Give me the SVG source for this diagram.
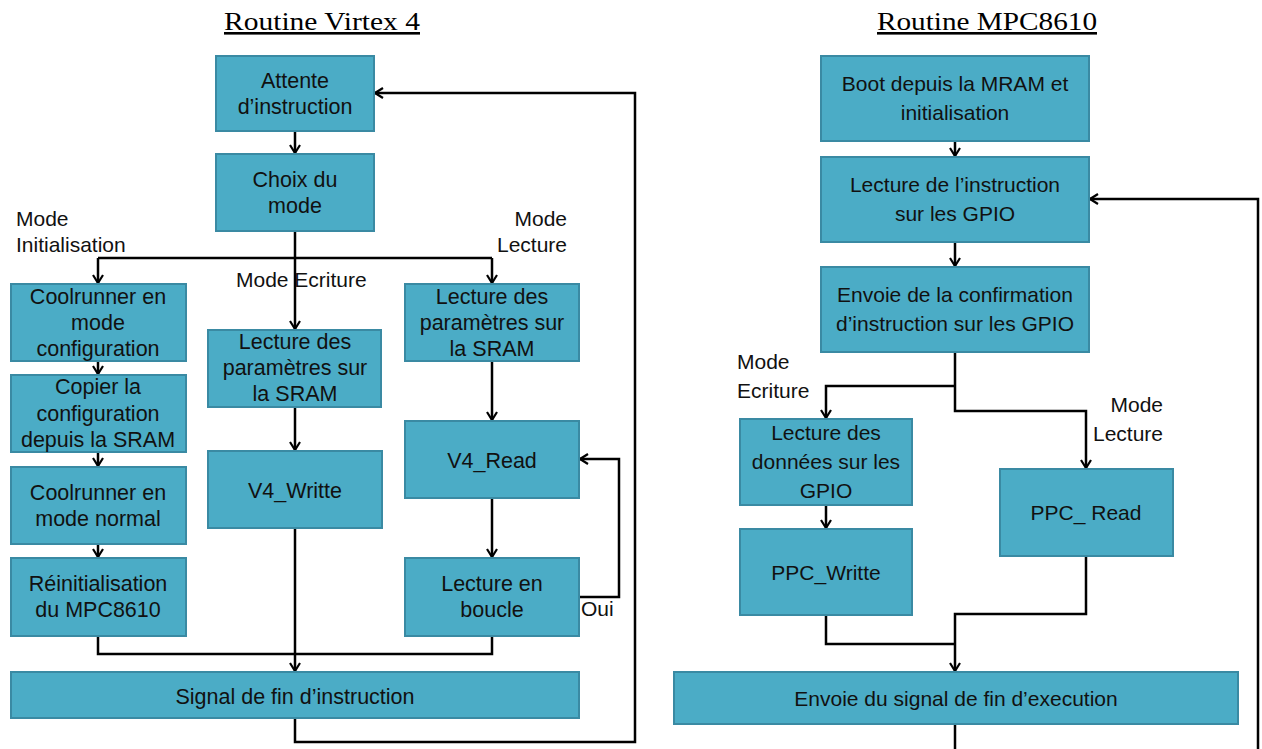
<svg xmlns="http://www.w3.org/2000/svg" width="1262" height="749" viewBox="0 0 1262 749">
<style>
.box{fill:#4BACC6;stroke:#3A8AA3;stroke-width:2}
.t{font-family:"Liberation Sans",Arial,sans-serif;font-size:21.5px;fill:#111;text-anchor:middle}
.tr{font-family:"Liberation Sans",Arial,sans-serif;font-size:21px;fill:#111;text-anchor:middle}
.lbl{font-family:"Liberation Sans",Arial,sans-serif;font-size:21px;fill:#111}
.title{font-family:"Liberation Serif","Times New Roman",serif;font-size:26px;fill:#000;text-anchor:middle;text-decoration:underline}
.c{fill:none;stroke:#000;stroke-width:2.5}
.a{marker-end:url(#arr)}
</style>
<defs>
<marker id="arr" markerUnits="userSpaceOnUse" viewBox="0 0 10 12" refX="9" refY="6" markerWidth="10" markerHeight="12" orient="auto">
<path d="M1,1 L9,6 L1,11" fill="none" stroke="#000" stroke-width="2.2"/>
</marker>
</defs>
<rect width="1262" height="749" fill="#fff"/>

<text class="title" x="322" y="30" textLength="196" lengthAdjust="spacingAndGlyphs">Routine Virtex 4</text>
<text class="title" x="987" y="30" textLength="220" lengthAdjust="spacingAndGlyphs">Routine MPC8610</text>

<g id="connectors">
<!-- left -->
<path class="c a" d="M295,131 V153"/>
<path class="c a" d="M295,231 V329"/>
<path class="c" d="M98,258 H492"/>
<path class="c a" d="M98,258 V283"/>
<path class="c a" d="M492,258 V283"/>
<path class="c a" d="M98,361 V374"/>
<path class="c a" d="M98,452 V466"/>
<path class="c a" d="M98,544 V557"/>
<path class="c a" d="M295,407 V450"/>
<path class="c a" d="M492,361 V420"/>
<path class="c a" d="M492,498 V557"/>
<path class="c a" d="M579,597 H619 V459 H580"/>
<path class="c" d="M98,636 V654 H492 V636"/>
<path class="c a" d="M295,528 V671"/>
<path class="c a" d="M295,718 V742 H635 V93 H375"/>
<!-- right -->
<path class="c a" d="M955,141 V156"/>
<path class="c a" d="M955,242 V266"/>
<path class="c a" d="M955,352 V411 H1086 V468"/>
<path class="c a" d="M955,386 H826 V418"/>
<path class="c a" d="M826,505 V528"/>
<path class="c" d="M826,615 V644 H955"/>
<path class="c a" d="M1086,556 V614 H955 V671"/>
<path class="c" d="M955,724 V749"/>
<path class="c a" d="M1258,749 V199 H1090"/>
</g>

<g id="labels">
<text class="lbl" x="16" y="226">Mode</text>
<text class="lbl" x="16" y="252">Initialisation</text>
<text class="lbl" x="567" y="226" text-anchor="end">Mode</text>
<text class="lbl" x="567" y="252" text-anchor="end">Lecture</text>
<text class="lbl" x="236" y="287">Mode Ecriture</text>
<text class="lbl" x="581" y="616">Oui</text>
<text class="lbl" x="737" y="369">Mode</text>
<text class="lbl" x="737" y="398">Ecriture</text>
<text class="lbl" x="1163" y="412" text-anchor="end">Mode</text>
<text class="lbl" x="1163" y="441" text-anchor="end">Lecture</text>
</g>

<g id="attente"><rect class="box" x="216" y="56" width="158" height="75"/>
<text class="t" x="295" y="88">Attente</text><text class="t" x="295" y="114">d’instruction</text></g>
<g id="choix"><rect class="box" x="216" y="154" width="158" height="77"/>
<text class="t" x="295" y="187">Choix du</text><text class="t" x="295" y="213">mode</text></g>
<g id="cool-config"><rect class="box" x="11" y="284" width="175" height="77"/>
<text class="t" x="98" y="304">Coolrunner en</text><text class="t" x="98" y="330">mode</text><text class="t" x="98" y="356">configuration</text></g>
<g id="copier"><rect class="box" x="11" y="375" width="175" height="77"/>
<text class="t" x="98" y="394">Copier la</text><text class="t" x="98" y="421">configuration</text><text class="t" x="98" y="447">depuis la SRAM</text></g>
<g id="cool-normal"><rect class="box" x="11" y="467" width="175" height="77"/>
<text class="t" x="98" y="500">Coolrunner en</text><text class="t" x="98" y="526">mode normal</text></g>
<g id="reinit"><rect class="box" x="11" y="558" width="175" height="78"/>
<text class="t" x="98" y="591">Réinitialisation</text><text class="t" x="98" y="617">du MPC8610</text></g>
<g id="lecture-param-ecr"><rect class="box" x="208" y="330" width="173" height="77"/>
<text class="t" x="295" y="349">Lecture des</text><text class="t" x="295" y="375">paramètres sur</text><text class="t" x="295" y="401">la SRAM</text></g>
<g id="v4-writte"><rect class="box" x="208" y="451" width="174" height="77"/>
<text class="t" x="295" y="498">V4_Writte</text></g>
<g id="lecture-param-lec"><rect class="box" x="405" y="284" width="174" height="77"/>
<text class="t" x="492" y="304">Lecture des</text><text class="t" x="492" y="330">paramètres sur</text><text class="t" x="492" y="356">la SRAM</text></g>
<g id="v4-read"><rect class="box" x="405" y="421" width="174" height="77"/>
<text class="t" x="492" y="468">V4_Read</text></g>
<g id="lecture-boucle"><rect class="box" x="405" y="558" width="174" height="78"/>
<text class="t" x="492" y="591">Lecture en</text><text class="t" x="492" y="617">boucle</text></g>
<g id="signal-fin"><rect class="box" x="11" y="672" width="568" height="46"/>
<text class="t" x="295" y="704">Signal de fin d’instruction</text></g>

<g id="boot"><rect class="box" x="821" y="56" width="268" height="85"/>
<text class="tr" x="955" y="91">Boot depuis la MRAM et</text><text class="tr" x="955" y="120">initialisation</text></g>
<g id="lecture-instr"><rect class="box" x="821" y="157" width="268" height="85"/>
<text class="tr" x="955" y="192">Lecture de l’instruction</text><text class="tr" x="955" y="221">sur les GPIO</text></g>
<g id="envoie-conf"><rect class="box" x="821" y="267" width="268" height="85"/>
<text class="tr" x="955" y="302">Envoie de la confirmation</text><text class="tr" x="955" y="331">d’instruction sur les GPIO</text></g>
<g id="lecture-donnees"><rect class="box" x="740" y="419" width="172" height="86"/>
<text class="tr" x="826" y="440">Lecture des</text><text class="tr" x="826" y="469">données sur les</text><text class="tr" x="826" y="498">GPIO</text></g>
<g id="ppc-writte"><rect class="box" x="740" y="529" width="172" height="86"/>
<text class="tr" x="826" y="580">PPC_Writte</text></g>
<g id="ppc-read"><rect class="box" x="1000" y="469" width="173" height="87"/>
<text class="tr" x="1086" y="520">PPC_ Read</text></g>
<g id="envoie-signal"><rect class="box" x="674" y="672" width="564" height="52"/>
<text class="tr" x="956" y="706">Envoie du signal de fin d’execution</text></g>
</svg>
